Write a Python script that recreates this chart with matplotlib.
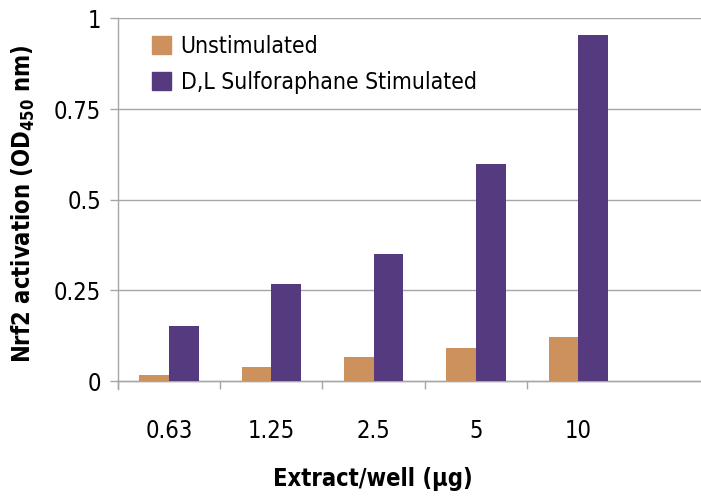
import matplotlib.pyplot as plt
import numpy as np
from matplotlib.patches import Patch

plt.rcParams['font.family'] = ['DejaVu Sans']
plt.rcParams['font.stretch'] = 'condensed'
plt.rcParams['mathtext.default'] = 'regular'

categories = ['0.63', '1.25', '2.5', '5', '10']
unstimulated = [0.017, 0.038, 0.068, 0.092, 0.122]
stimulated = [0.151, 0.267, 0.350, 0.598, 0.954]

orange = '#CC915D'
purple = '#553A80'
grey = '#A6A6A6'

fig = plt.figure(figsize=(7.01, 4.97), dpi=100)
ax = fig.add_axes([0.168, 0.217, 0.832, 0.746])

x = np.arange(len(categories))
w = 0.29
ax.bar(x - w / 2, unstimulated, w, color=orange, zorder=3)
ax.bar(x + w / 2, stimulated, w, color=purple, zorder=3)

ax.set_xlim(-0.5, 5.2)
ax.set_ylim(-0.022, 1)
ax.set_yticks([0, 0.25, 0.5, 0.75, 1])
ax.set_yticklabels(['0', '0.25', '0.5', '0.75', '1'])
ax.yaxis.grid(True, color=grey, linewidth=1, zorder=0)
ax.set_xticks(x)
ax.set_xticklabels(categories)
ax.set_xticks(np.arange(len(categories)) - 0.5, minor=True)

for s in ['top', 'right']:
    ax.spines[s].set_visible(False)
ax.spines['bottom'].set_position(('data', 0))
ax.spines['left'].set_position(('data', -0.5))
for s in ['bottom', 'left']:
    ax.spines[s].set_color(grey)
    ax.spines[s].set_linewidth(1)

ax.tick_params(axis='x', which='major', length=0, pad=27, labelsize=17)
ax.tick_params(axis='x', which='minor', length=6, color=grey, width=1)
ax.tick_params(axis='y', length=6, color=grey, width=1, pad=6, labelsize=17)

ax.set_xlabel('Extract/well (µg)', fontsize=17, fontweight='bold')
# label sits under the category block, not the whole axis line
ax.xaxis.set_label_coords(0.437, -0.211)
ax.set_ylabel(r'Nrf2 activation (OD$_{450}$ nm)', fontsize=17, fontweight='bold', labelpad=12)

handles = [Patch(color=orange, label='Unstimulated'),
           Patch(color=purple, label='D,L Sulforaphane Stimulated')]
ax.legend(handles=handles, loc='upper left', bbox_to_anchor=(0.043, 0.98), frameon=False,
          fontsize=16.5, handlelength=0.85, handleheight=0.85, handletextpad=0.4,
          labelspacing=0.55, borderaxespad=0)

fig.savefig('out.png', dpi=100)
